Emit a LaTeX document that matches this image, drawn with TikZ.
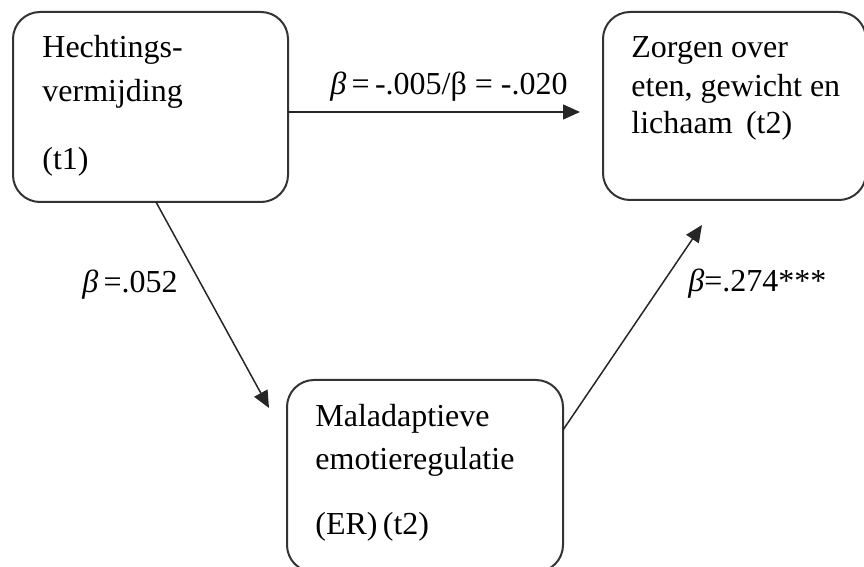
\documentclass[tikz,border=0pt]{standalone}
\usepackage{fontspec}
\setmainfont{Liberation Serif}
\usetikzlibrary{arrows.meta}
\begin{document}
\begin{tikzpicture}[x=0.5pt,y=-0.5pt,
  box/.style={draw=black!80,line width=1pt,rounded corners=13.5pt},
  boxtext/.style={anchor=base west,inner sep=0pt,font=\fontsize{16}{19}\selectfont},
  lbl/.style={anchor=base west,inner sep=0pt,font=\fontsize{16}{19}\selectfont},
  conn/.style={draw=black!85,line width=0.75pt,-{Triangle[length=8.5pt,width=7.5pt]}}]
\useasboundingbox (0,0) rectangle (864,567);
% boxes
\draw[box] (13,12) rectangle (288,202);
\draw[box] (603,12) rectangle (866,200);
\draw[box] (287,380) rectangle (563,572);
% texts
\node[boxtext] (t1a) at (42,58) {Hechtings-};
\node[boxtext] (t1b) at (42,102) {vermijding};
\node[boxtext] (t1c) at (42,170) {(t1)};
\node[boxtext] (t2a) at (631,58) {Zorgen over};
\node[boxtext] (t2b) at (631,97) {eten, gewicht en};
\node[boxtext] (t2c) at (631,134) {lichaam\ \,(t2)};
\node[boxtext] (t3a) at (315,427) {Maladaptieve};
\node[boxtext] (t3b) at (315,470) {emotieregulatie};
\node[boxtext] (t3c) at (315,535) {(ER)\,(t2)};
% connector endpoints
\coordinate (h1) at (288,112);
\coordinate (h2) at (580,112);
\coordinate (d1) at (156,202);
\coordinate (d2) at (269,408);
\coordinate (e1) at (563,430);
\coordinate (e2) at (702,225);
\draw[conn] (h1) -- (h2);
\draw[conn] (d1) -- (d2);
\draw[conn] (e1) -- (e2);
% labels
\node[lbl] (l1) at (330,95) {\textit{β}\,=\,-.005/β = -.020};
\node[lbl] (l2) at (82,293) {\textit{β}\,=.052};
\node[lbl] (l3) at (688,292) {\textit{β}=.274***};
\end{tikzpicture}
\end{document}
